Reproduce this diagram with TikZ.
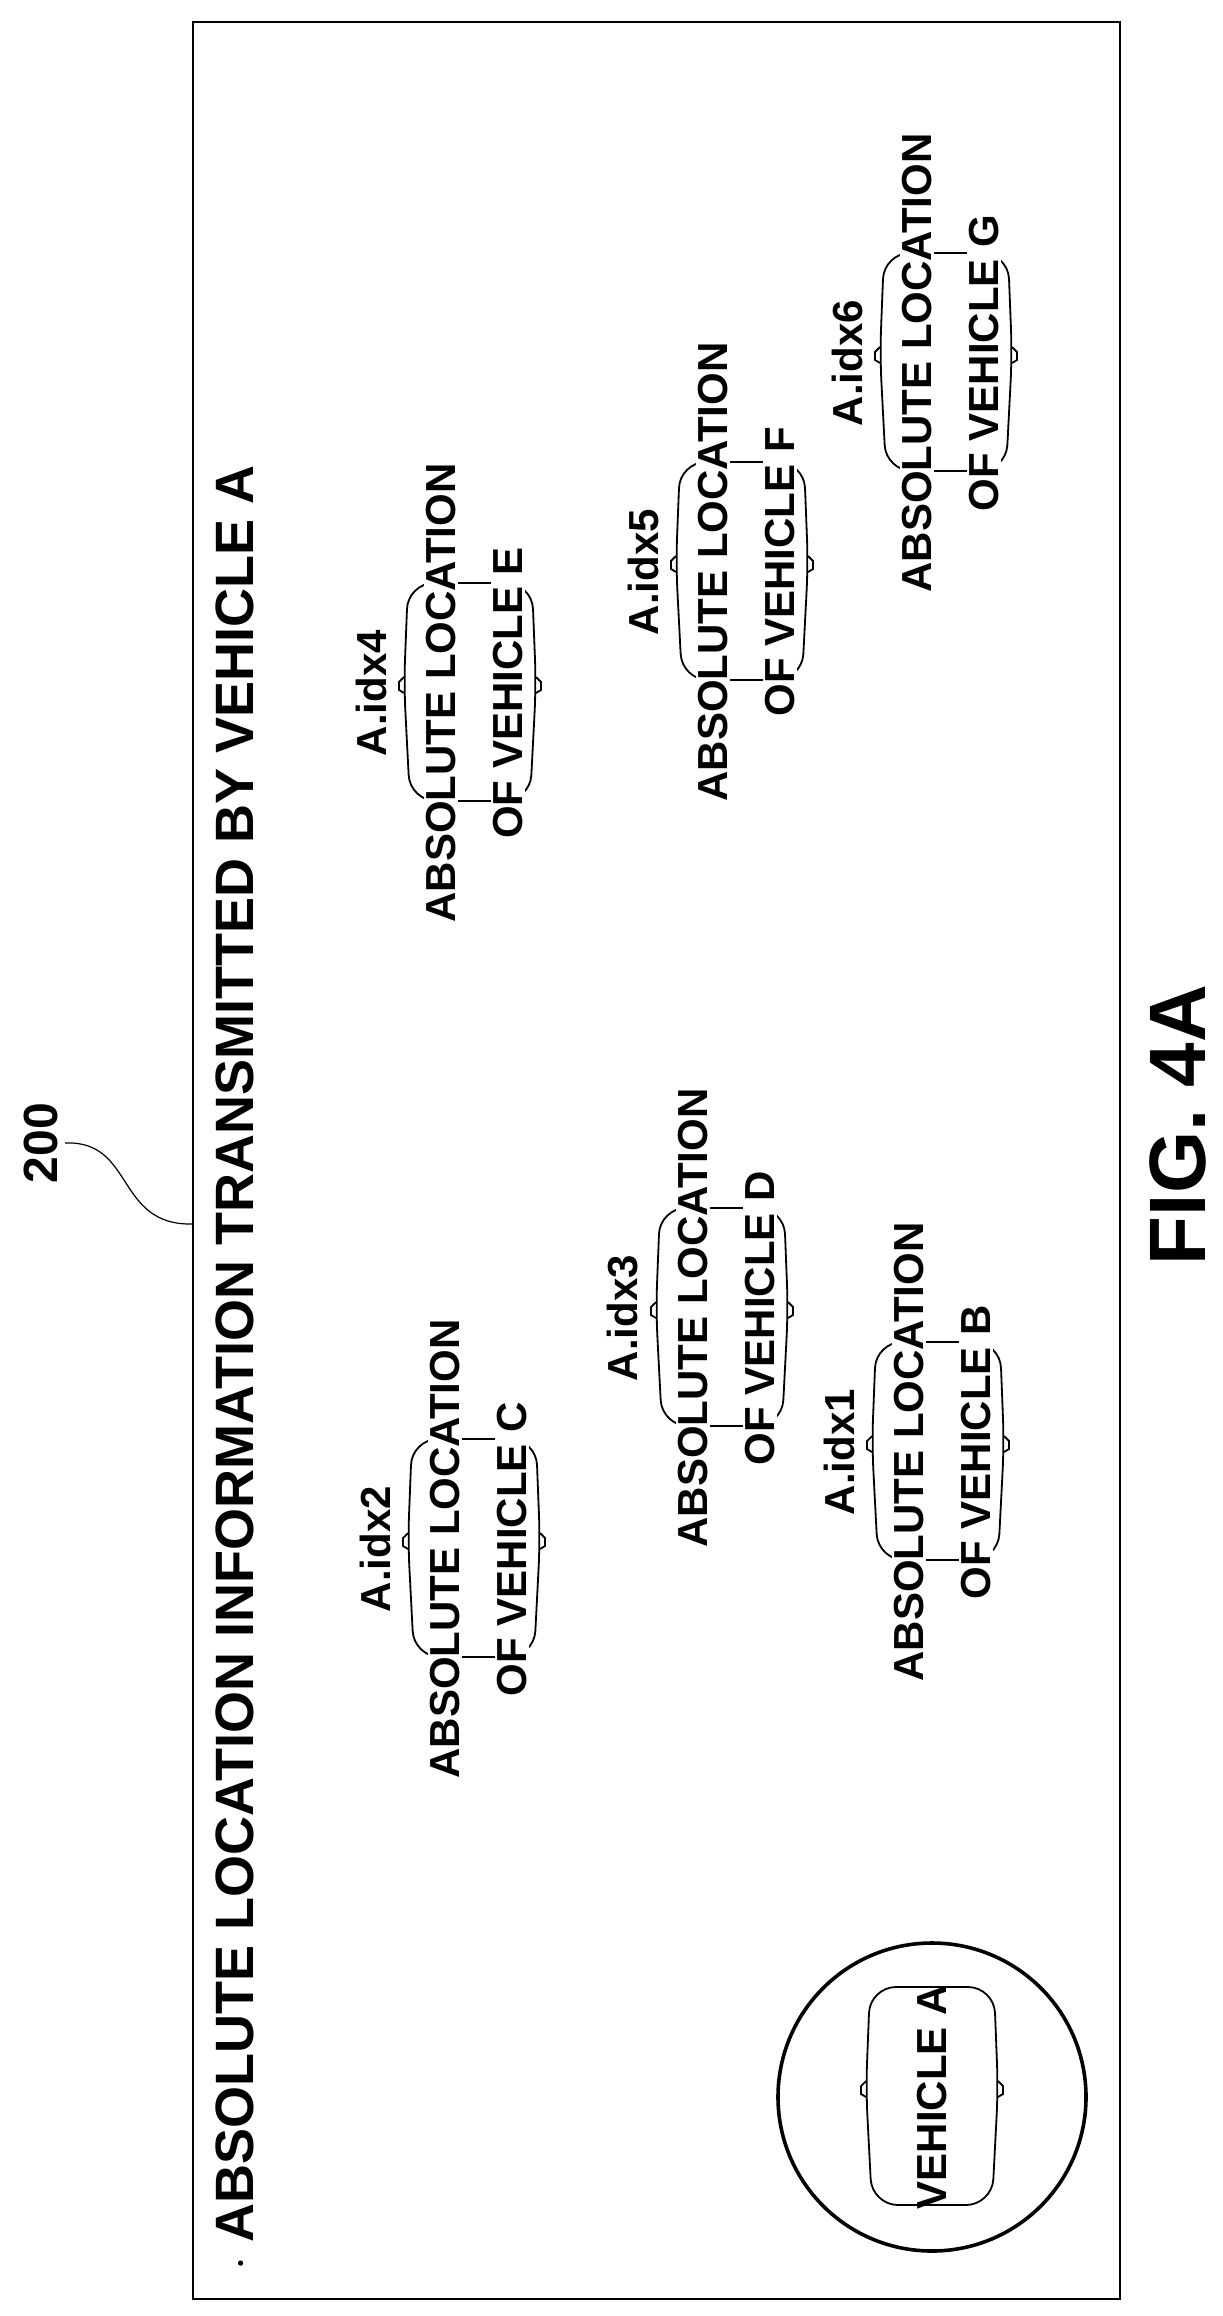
\documentclass[tikz,border=0pt]{standalone}
\usepackage{fontspec}
\setmainfont{Liberation Sans}
\usetikzlibrary{positioning}

\tikzset{
  lbl/.style={font=\bfseries\fontsize{21}{24}\selectfont, rotate=90, inner sep=1pt, fill=white},
  carline/.style={line width=0.9pt, rounded corners=13pt},
  frameline/.style={line width=0.8pt}
}
\newcommand{\carshape}[2]{%
  \begin{scope}[shift={(#1,#2)}]
    \draw[carline] (0,-110) -- (62,-110) -- (66,-8) -- (60,108) -- (-60,108) -- (-66,-8) -- (-62,-110) -- cycle;
    \draw[line width=0.9pt] (66,-16) -- (71,-11) -- (71,-3) -- (66,0);
    \draw[line width=0.9pt] (-66,-16) -- (-71,-11) -- (-71,-3) -- (-66,0);
  \end{scope}}

\begin{document}
\begin{tikzpicture}[x=0.5pt,y=-0.5pt]
  \useasboundingbox (0,0) rectangle (1222,2316);
  \draw[frameline] (193,22) rectangle (1120,2299);

  % reference numeral
  \node[font=\bfseries\fontsize{24}{28}\selectfont, rotate=90] (n200) at (41,1143) {200};
  \coordinate (frameref) at (193,1224);
  \draw[line width=0.6pt] (n200.south) .. controls (135,1140) and (115,1226) .. (frameref);

  % title
  \node[font=\bfseries\fontsize{27}{30}\selectfont, rotate=90] (title) at (235,1368)
    {$\cdot$ ABSOLUTE LOCATION INFORMATION TRANSMITTED BY VEHICLE A};

  % surrounding vehicles
  \foreach \i/\v/\x/\y in {2/C/445/1549, 3/D/693/1318, 1/B/909/1452, 4/E/441/693, 5/F/713/572, 6/G/917/363} {
    \carshape{\x+29}{\y}
    \node[lbl] (idx\i) at (\x-70,\y) {A.idx\i};
    \node[lbl] (abs\i) at (\x,\y) {ABSOLUTE LOCATION};
    \node[lbl] (of\i) at (\x+67,\y) {OF VEHICLE \v};
  }

  % vehicle A
  \draw[line width=1.8pt] (932,2097) circle [radius=77pt];
  \coordinate (circA) at (932,2097);
  \carshape{932}{2097}
  \node[lbl, fill=none] (vehA) at (circA) {VEHICLE A};

  \node[font=\bfseries\fontsize{40}{46}\selectfont, rotate=90, inner sep=0pt] (fig) at (1178,1125) {FIG. 4A};
\end{tikzpicture}
\end{document}
